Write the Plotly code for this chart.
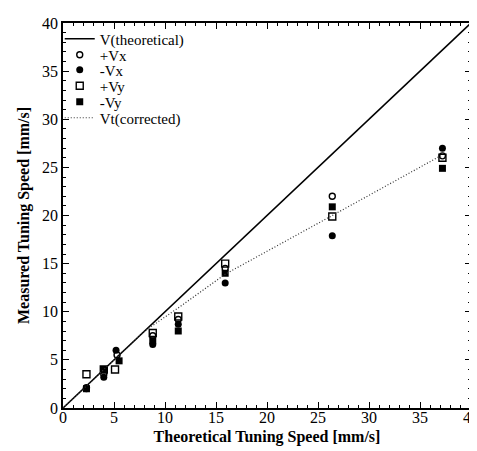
import plotly.graph_objects as go

# Theoretical line
theo_x = [0, 40]
theo_y = [0, 40]

# Data series (theoretical speed, measured speed)
pvx_x = [2.3, 4.0, 5.3, 8.8, 11.3, 15.9, 26.4, 37.2]
pvx_y = [2.1, 3.5, 5.5, 7.5, 9.2, 14.5, 22.0, 26.2]
mvx_x = [2.3, 4.0, 5.2, 8.8, 11.3, 15.9, 26.4, 37.2]
mvx_y = [2.0, 3.2, 6.0, 6.6, 8.7, 13.0, 17.9, 27.0]
pvy_x = [2.3, 4.0, 5.1, 8.8, 11.3, 15.9, 26.4, 37.2]
pvy_y = [3.5, 4.0, 4.0, 7.8, 9.5, 15.0, 19.9, 26.0]
mvy_x = [2.3, 4.0, 5.5, 8.8, 11.3, 15.9, 26.4, 37.2]
mvy_y = [2.0, 4.0, 4.9, 7.0, 8.0, 14.0, 20.9, 24.9]

# Corrected curve
corr_x = [0, 8.0, 11.3, 15.9, 26.4, 37.2]
corr_y = [0, 8.0, 10.4, 13.9, 20.0, 26.3]

serif = "Liberation Serif"

fig = go.Figure()
fig.add_trace(go.Scatter(x=theo_x, y=theo_y, mode="lines", name="V(theoretical)",
                         line=dict(color="black", width=1.6), legend="legend"))
fig.add_trace(go.Scatter(x=pvx_x, y=pvx_y, mode="markers", name="+Vx", legend="legend2",
                         marker=dict(symbol="circle-open", size=6, color="black", line=dict(width=1.4))))
fig.add_trace(go.Scatter(x=mvx_x, y=mvx_y, mode="markers", name="-Vx", legend="legend3",
                         marker=dict(symbol="circle", size=7, color="black")))
fig.add_trace(go.Scatter(x=pvy_x, y=pvy_y, mode="markers", name="+Vy", legend="legend4",
                         marker=dict(symbol="square-open", size=7, color="black", line=dict(width=1.4))))
fig.add_trace(go.Scatter(x=mvy_x, y=mvy_y, mode="markers", name="-Vy", legend="legend5",
                         marker=dict(symbol="square", size=7, color="black")))
fig.add_trace(go.Scatter(x=corr_x, y=corr_y, mode="lines", name="Vt(corrected)", legend="legend6",
                         line=dict(color="#333333", width=1.2, dash="1px,2px")))

axis_common = dict(
    showgrid=False, zeroline=False, showline=True, linecolor="black", linewidth=1.5,
    mirror="ticks", ticks="inside", ticklen=6, tickwidth=1.2, tickcolor="black",
    dtick=5, tick0=0,
    minor=dict(ticks="inside", ticklen=3, tickwidth=1, tickcolor="black", dtick=1, showgrid=False),
)

leg_font = dict(family=serif, size=15, color="black")
row_y = [0.9585, 0.9169, 0.8779, 0.8364, 0.7948, 0.7533]
legends = {}
for i, yy in enumerate(row_y):
    key = "legend" if i == 0 else f"legend{i+1}"
    legends[key] = dict(x=-0.008, y=yy, xanchor="left", yanchor="middle",
                        bgcolor="rgba(0,0,0,0)", font=leg_font, itemwidth=30,
                        borderwidth=0)

fig.update_layout(
    width=477, height=451,
    margin=dict(l=55, r=6, t=15, b=51),
    plot_bgcolor="white", paper_bgcolor="white",
    font=dict(family=serif, size=16, color="black"),
    showlegend=True,
    **legends,
)
fig.update_xaxes(range=[0, 40], ticklabelstandoff=-6,
                 tickfont=dict(family=serif, size=16, color="black"),
                 title=dict(text="<b>Theoretical Tuning Speed [mm/s]</b>",
                            font=dict(family=serif, size=16, color="black"), standoff=6),
                 **axis_common)
fig.update_yaxes(range=[0, 40],
                 tickfont=dict(family=serif, size=16, color="black"),
                 title=dict(text="<b>Measured Tuning Speed [mm/s]</b>",
                            font=dict(family=serif, size=16, color="black"), standoff=8),
                 **axis_common)

fig.write_html("out.html")
